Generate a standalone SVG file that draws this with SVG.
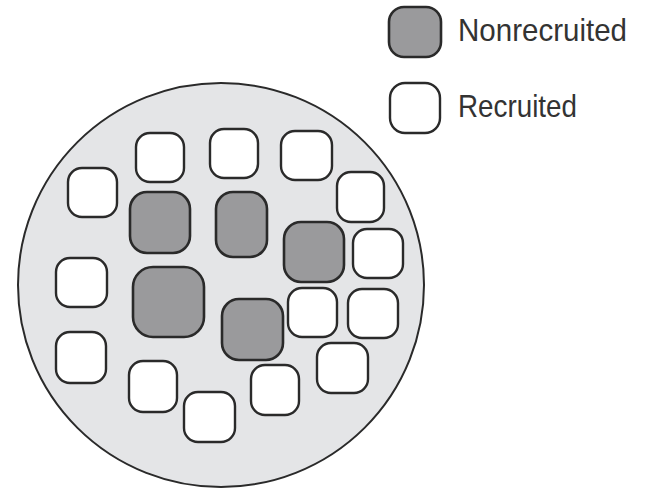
<svg xmlns="http://www.w3.org/2000/svg" width="650" height="488" viewBox="0 0 650 488">
<style>
.c{fill:#e4e5e7;stroke:#2a2a2a;stroke-width:2}
.n{fill:#9a9a9c;stroke:#2a2a2a;stroke-width:2.6}
.r{fill:#ffffff;stroke:#2a2a2a;stroke-width:2.4}
.t{font-family:"Liberation Sans",Arial,sans-serif;font-size:30.5px;fill:#333}
</style>
<rect width="650" height="488" fill="#fff"/>
<g id="pool"><ellipse class="c" cx="221" cy="285" rx="203" ry="202"/></g>
<g id="legend">
<rect class="n" x="389" y="7" width="52" height="50" rx="15"/>
<text class="t" x="458" y="41" textLength="169" lengthAdjust="spacingAndGlyphs">Nonrecruited</text>
<rect class="r" x="390" y="83" width="50" height="50" rx="15"/>
<text class="t" x="458" y="117" textLength="119" lengthAdjust="spacingAndGlyphs">Recruited</text>
</g>
<g id="units">
<g id="r1"><rect class="r" x="136" y="133" width="48" height="49" rx="14"/></g>
<g id="r2"><rect class="r" x="210" y="129" width="48" height="49" rx="14"/></g>
<g id="r3"><rect class="r" x="281" y="131" width="51" height="49" rx="14"/></g>
<g id="r4"><rect class="r" x="68" y="168" width="49" height="49" rx="14"/></g>
<g id="r5"><rect class="r" x="337" y="172" width="47" height="50" rx="14"/></g>
<g id="n1"><rect class="n" x="130" y="192" width="60" height="61" rx="17"/></g>
<g id="n2"><rect class="n" x="216" y="192" width="51" height="65" rx="17"/></g>
<g id="n3"><rect class="n" x="284" y="222" width="60" height="60" rx="17"/></g>
<g id="r6"><rect class="r" x="353" y="229" width="50" height="49" rx="14"/></g>
<g id="r7"><rect class="r" x="56" y="258" width="51" height="49" rx="14"/></g>
<g id="n4"><rect class="n" x="133" y="267" width="71" height="70" rx="20"/></g>
<g id="n5"><rect class="n" x="222" y="299" width="61" height="61" rx="17"/></g>
<g id="r8"><rect class="r" x="288" y="288" width="49" height="49" rx="14"/></g>
<g id="r9"><rect class="r" x="348" y="289" width="50" height="49" rx="14"/></g>
<g id="r10"><rect class="r" x="56" y="332" width="50" height="51" rx="14"/></g>
<g id="r11"><rect class="r" x="129" y="361" width="48" height="51" rx="14"/></g>
<g id="r12"><rect class="r" x="184" y="392" width="51" height="50" rx="14"/></g>
<g id="r13"><rect class="r" x="251" y="365" width="48" height="50" rx="14"/></g>
<g id="r14"><rect class="r" x="317" y="343" width="51" height="50" rx="14"/></g>
</g>
<g id="connectors"/>
</svg>
